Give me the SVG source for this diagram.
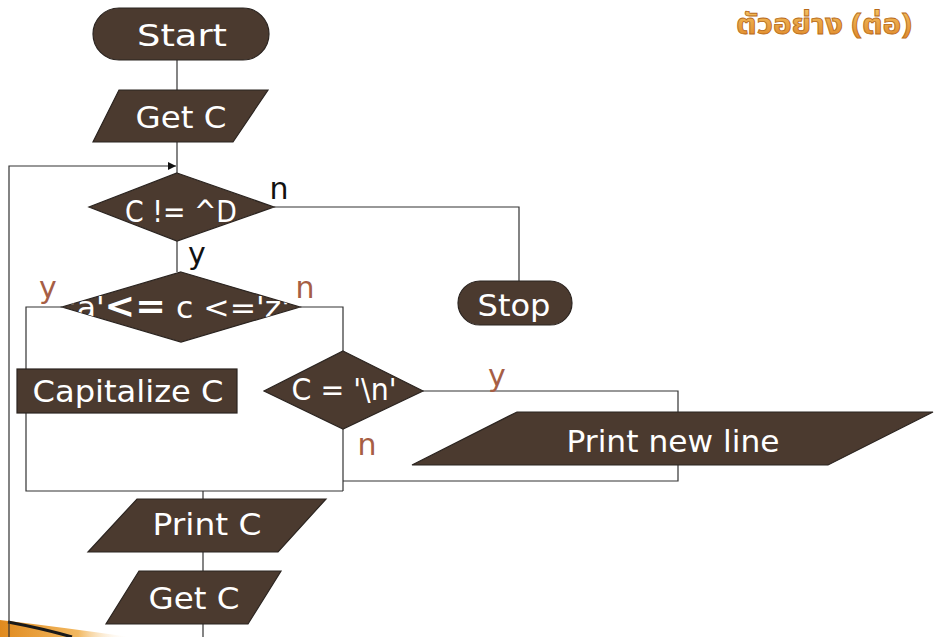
<svg xmlns="http://www.w3.org/2000/svg" width="934" height="637" viewBox="0 0 934 637">
<defs>
<style>
.node{fill:#4b3a2f;stroke:#2b2420;stroke-width:1.2}
.lbl{font-family:"DejaVu Sans","Liberation Sans",sans-serif;fill:#ffffff;font-size:31px}
.yn{font-family:"DejaVu Sans","Liberation Sans",sans-serif;font-size:30px}
.ynk{fill:#111111}
.yno{fill:#a65e45}
.conn{fill:none;stroke:#333333;stroke-width:1.2}
</style>
<marker id="arr" viewBox="0 0 10 10" refX="10" refY="5" markerWidth="8" markerHeight="8" markerUnits="userSpaceOnUse" orient="auto">
<path d="M0,0 L10,5 L0,10 Z" fill="#111111"/>
</marker>
<linearGradient id="og" x1="0" y1="0" x2="0" y2="1">
<stop offset="0" stop-color="#f8cc6a"/>
<stop offset="1" stop-color="#d9781c"/>
</linearGradient>
<linearGradient id="sw" x1="0" y1="0" x2="1" y2="0">
<stop offset="0" stop-color="#e08a1e"/>
<stop offset="0.6" stop-color="#f2b860"/>
<stop offset="1" stop-color="#ffffff" stop-opacity="0"/>
</linearGradient>
</defs>
<rect width="934" height="637" fill="#ffffff"/>

<g id="decor">
<path d="M0,620 Q60,627 130,637 L0,637 Z" fill="url(#sw)"/>
<path d="M8,622 Q45,629 72,637" fill="none" stroke="#1a1a1a" stroke-width="3"/>
<text x="824" y="34" text-anchor="middle" font-family="'Noto Sans Thai','Noto Sans','DejaVu Sans',sans-serif" font-size="29" font-weight="bold" fill="url(#og)" stroke="#b86a18" stroke-width="0.8" textLength="176" lengthAdjust="spacingAndGlyphs">ตัวอย่าง (ต่อ)</text>
</g>

<g id="connectors">
<path class="conn" d="M177,60 V90"/>
<path class="conn" d="M177,142 V173"/>
<path class="conn" d="M9,637 V166 H176" marker-end="url(#arr)"/>
<path class="conn" d="M274,207 H519 V281"/>
<path class="conn" d="M177,241 V272"/>
<path class="conn" d="M62,307 H26 V491 H343"/>
<path class="conn" d="M300,307 H343 V351"/>
<path class="conn" d="M423,391 H678 V481 H343"/>
<path class="conn" d="M343,429 V491"/>
<path class="conn" d="M203,491 V499"/>
<path class="conn" d="M203,552 V571"/>
<path class="conn" d="M203,624 V637"/>
</g>

<g id="start">
<rect class="node" x="93" y="8" width="176" height="52" rx="26"/>
<text class="lbl" x="182" y="46" text-anchor="middle" textLength="90" lengthAdjust="spacingAndGlyphs">Start</text>
</g>

<g id="get1">
<polygon class="node" points="119,90 268,90 233,142 93,142"/>
<text class="lbl" x="181" y="128" text-anchor="middle" textLength="91" lengthAdjust="spacingAndGlyphs">Get C</text>
</g>

<g id="cond1">
<polygon class="node" points="177,173 274,207 177,241 89,207"/>
<text class="lbl" x="181" y="222" text-anchor="middle" textLength="112" lengthAdjust="spacingAndGlyphs">C != ^D</text>
<text class="yn ynk" x="279" y="199" text-anchor="middle">n</text>
<text class="yn ynk" x="197" y="264" text-anchor="middle">y</text>
</g>

<g id="stop">
<rect class="node" x="458" y="281" width="114" height="44" rx="22"/>
<text class="lbl" x="514" y="316" text-anchor="middle" textLength="73" lengthAdjust="spacingAndGlyphs">Stop</text>
</g>

<g id="cond2">
<clipPath id="c2"><polygon points="181,272 300,307 181,342 62,307"/></clipPath>
<polygon class="node" points="181,272 300,307 181,342 62,307"/>
<text class="lbl" x="68" y="318" clip-path="url(#c2)" textLength="222" lengthAdjust="spacingAndGlyphs">'a'<tspan font-weight="bold" font-size="36">&lt;=</tspan> c &lt;='z'</text>
<text class="yn yno" x="48" y="298" text-anchor="middle">y</text>
<text class="yn yno" x="305" y="298" text-anchor="middle">n</text>
</g>

<g id="capitalize">
<rect class="node" x="17" y="369" width="220" height="44"/>
<text class="lbl" x="128" y="402" text-anchor="middle" textLength="191" lengthAdjust="spacingAndGlyphs">Capitalize C</text>
</g>

<g id="cond3">
<polygon class="node" points="343,351 423,391 343,429 264,391"/>
<text class="lbl" x="344" y="400" text-anchor="middle" textLength="105" lengthAdjust="spacingAndGlyphs">C = '\n'</text>
<text class="yn yno" x="497" y="386" text-anchor="middle">y</text>
<text class="yn yno" x="367" y="455" text-anchor="middle">n</text>
</g>

<g id="printnl">
<polygon class="node" points="517,412 933,412 828,465 412,465"/>
<text class="lbl" x="673" y="452" text-anchor="middle" textLength="213" lengthAdjust="spacingAndGlyphs">Print new line</text>
</g>

<g id="printc">
<polygon class="node" points="137,499 326,499 278,552 88,552"/>
<text class="lbl" x="207" y="535" text-anchor="middle" textLength="109" lengthAdjust="spacingAndGlyphs">Print C</text>
</g>

<g id="get2">
<polygon class="node" points="139,571 281,571 248,624 106,624"/>
<text class="lbl" x="194" y="609" text-anchor="middle" textLength="91" lengthAdjust="spacingAndGlyphs">Get C</text>
</g>
</svg>
